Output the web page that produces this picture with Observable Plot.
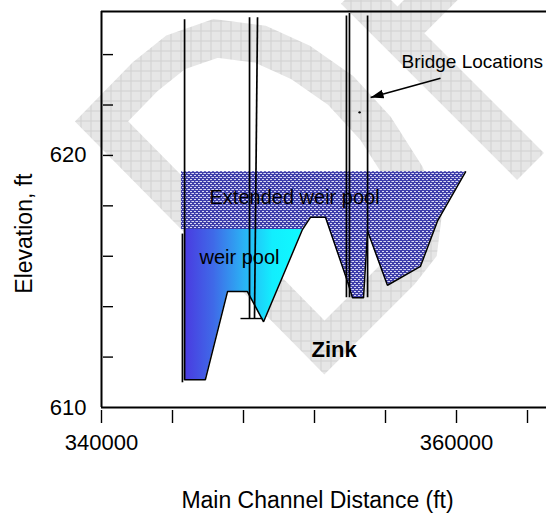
<!DOCTYPE html>
<html><head><meta charset="utf-8">
<script src="https://cdn.jsdelivr.net/npm/d3@7"></script>
<script src="https://cdn.jsdelivr.net/npm/@observablehq/plot@0.6"></script>
<style>body{margin:0;background:#fff}</style>
</head><body><div id="chart"></div>
<script>
// ---- data (main channel distance in ft, elevation in ft) ----
const stationFt  = [344680, 345850, 347100, 348220, 349130, 351320, 351780, 352620, 353860, 354140, 354760, 354990, 356110, 357970, 358930, 360510];
const groundElev = [611.1, 611.1, 614.6, 614.6, 613.4, 617.06, 617.55, 617.55, 615.0, 614.35, 614.35, 617.0, 614.85, 615.6, 617.4, 619.35];
const weirPoolElev = 617.06;
const weirPoolEnd = 351320;
const extendedPoolElev = 619.35;
const extendedPoolStart = 344510;

const bridgeX1     = [344680, 344560, 348340, 348790, 353800, 353970, 354990];
const bridgeX2     = [344680, 344560, 348340, 348620, 353800, 353970, 354990];
const bridgeTop    = [625.4, 616.9, 625.48, 625.48, 625.55, 625.65, 625.55];
const bridgeBottom = [611.1, 611.0, 613.53, 613.53, 614.37, 614.37, 614.37];
const footX = [347830, 349070];
const footY = 613.53;

const xDomain = [340000, 365070];
const yDomain = [610, 625.71];
const xTicks = [340000, 344000, 348000, 352000, 356000, 360000, 364000];
const xTickLabels = [340000, 360000];
const yTicks = [612, 614, 616, 618, 620, 622, 624];
const yTickLabels = [610, 620];

const noteText = ["Extended weir pool", "weir pool"];
const noteX = [346085, 345520];
const noteY = [618.33, 615.95];
const bridgeNote = "Bridge Locations";
const bridgeNoteX = 356900, bridgeNoteY = 623.73;
const siteName = "Zink";
const siteX = 351830, siteY = 612.30;
const arrowFrom = [359100, 623.06];
const arrowTo = [355160, 622.30];
const dotAt = [354540, 621.71];
const xTitle = "Main Channel Distance (ft)";
const xTitlePos = [352170, 606.3];
const yTitle = "Elevation, ft";
const yTitlePos = [340000, 616.9];

// watermark ("draft" stamp) paths, in chart coordinates
const wmDx = [352560, 340000, 342480, 344170, 346420, 348960, 351210, 353470, 355440, 357130, 358090, 357860, 356850, 352560, 348390];
const wmDy = [612.38, 621.35, 623.14, 624.09, 624.64, 624.41, 623.69, 622.58, 621.07, 619.21, 617.62, 616.31, 615.40, 612.38, 615.36];
const wmBx = [354250, 364170], wmBy = [626.55, 619.56];
const wmCx = [356560, 359380], wmCy = [624.76, 626.75];

// ---- derived tables ----
const profile = stationFt.map((x, i) => ({x, g: groundElev[i]}));
const weirPool = profile.filter(p => p.x <= weirPoolEnd);
const extPool = [{x: extendedPoolStart, g: weirPoolElev}, ...profile.filter(p => p.x >= weirPoolEnd)];
const bridges = bridgeX1.map((x, i) => ({x1: x, x2: bridgeX2[i], y1: bridgeTop[i], y2: bridgeBottom[i]}));
const wm = (xs, ys, id) => xs.map((x, i) => ({x, y: ys[i], id}));
const watermark = [...wm(wmDx, wmDy, "D"), ...wm(wmBx, wmBy, "B"), ...wm(wmCx, wmCy, "C")];

function solidArrow(color) {
  const m = d3.create("svg:marker")
    .attr("viewBox", "-13 -5 13 10")
    .attr("markerWidth", 13).attr("markerHeight", 10)
    .attr("markerUnits", "userSpaceOnUse")
    .attr("orient", "auto").attr("refX", 0).attr("refY", 0);
  m.append("path").attr("d", "M-13,-4.5L0,0L-13,4.5Z").attr("fill", color).attr("stroke", "none");
  return m.node();
}

const font = "'Liberation Sans', Arial, Helvetica, sans-serif";

const chart = Plot.plot({
  width: 546, height: 514,
  marginLeft: 101, marginRight: 0, marginTop: 11, marginBottom: 107,
  x: {domain: xDomain},
  y: {domain: yDomain},
  style: {fontFamily: font, fontSize: "22px", background: "white", color: "black", overflow: "visible"},
  marks: [
    Plot.line(watermark, {x: "x", y: "y", z: "id", stroke: "url(#wm)", strokeWidth: 38, strokeLinejoin: "miter", strokeLinecap: "butt", strokeMiterlimit: 4}),
    Plot.areaY(extPool, {x: "x", y1: "g", y2: () => extendedPoolElev, fill: "url(#ext)"}),
    Plot.areaY(weirPool, {x: "x", y1: "g", y2: () => weirPoolElev, fill: "url(#wg)"}),
    Plot.line(profile, {x: "x", y: "g", stroke: "black", strokeWidth: 1.5, strokeLinejoin: "miter"}),
    Plot.link(bridges, {x1: "x1", x2: "x2", y1: "y1", y2: "y2", stroke: "black", strokeWidth: 1.7}),
    Plot.link([footX], {x1: d => d[0], x2: d => d[1], y1: () => footY, y2: () => footY, stroke: "black", strokeWidth: 1.4}),
    Plot.ruleX([xDomain[0]], {stroke: "black", strokeWidth: 2}),
    Plot.ruleY([yDomain[0], yDomain[1]], {stroke: "black", strokeWidth: 2}),
    Plot.tickY(yTicks, {y: d => d, insetLeft: 2, insetRight: 433, stroke: "black", strokeWidth: 1.4}),
    Plot.tickX(xTicks, {x: d => d, insetTop: 399, insetBottom: -16, stroke: "black", strokeWidth: 1.4}),
    Plot.axisY(yTickLabels, {tickSize: 0, tickPadding: 15, fontSize: 22, label: null, tickFormat: d => String(d)}),
    Plot.axisX(xTickLabels, {tickSize: 0, tickPadding: 27, fontSize: 22, label: null, tickFormat: d => String(d)}),
    Plot.text(noteText, {x: (d, i) => noteX[i], y: (d, i) => noteY[i], text: d => d, textAnchor: "start", fontSize: 20, fill: "black"}),
    Plot.text([bridgeNote], {x: () => bridgeNoteX, y: () => bridgeNoteY, text: d => d, textAnchor: "start", fontSize: 19, fill: "black"}),
    Plot.text([siteName], {x: () => siteX, y: () => siteY, text: d => d, textAnchor: "start", fontSize: 22, fontWeight: "bold", fill: "black"}),
    Plot.link([0], {x1: () => arrowFrom[0], y1: () => arrowFrom[1], x2: () => arrowTo[0], y2: () => arrowTo[1], stroke: "black", strokeWidth: 1.6, markerEnd: solidArrow}),
    Plot.dot([dotAt], {x: d => d[0], y: d => d[1], r: 1.2, fill: "black", stroke: "none"}),
    Plot.text([yTitle], {x: () => yTitlePos[0], y: () => yTitlePos[1], text: d => d, dx: -77, rotate: -90, fontSize: 23, fill: "black"}),
    Plot.text([xTitle], {x: () => xTitlePos[0], y: () => xTitlePos[1], text: d => d, fontSize: 23, fill: "black"})
  ]
});

const defs = d3.select(chart).insert("defs", ":first-child");
const pw = defs.append("pattern").attr("id", "wm").attr("width", 10).attr("height", 10).attr("patternUnits", "userSpaceOnUse");
pw.append("rect").attr("width", 10).attr("height", 10).attr("fill", "#e6e6e6");
pw.append("path").attr("d", "M0 0.5H10M0.5 0V10").attr("stroke", "#d0d0d0").attr("stroke-width", 1).attr("fill", "none");
const pe = defs.append("pattern").attr("id", "ext").attr("width", 4).attr("height", 4).attr("patternUnits", "userSpaceOnUse");
pe.append("rect").attr("width", 4).attr("height", 4).attr("fill", "#3e3eaa");
pe.append("rect").attr("x", 0).attr("y", 1).attr("width", 2).attr("height", 1).attr("fill", "#dadaf4");
pe.append("rect").attr("x", 2).attr("y", 3).attr("width", 2).attr("height", 1).attr("fill", "#dadaf4");
pe.append("rect").attr("x", 3).attr("y", 1).attr("width", 1).attr("height", 1).attr("fill", "#9a9ad6");
const lg = defs.append("linearGradient").attr("id", "wg").attr("x1", 0).attr("x2", 1).attr("y1", 0).attr("y2", 0);
[[0, "#4a3ae0"], [0.25, "#3f6ae8"], [0.5, "#2bb0f4"], [0.75, "#12eefe"], [1, "#10faff"]]
  .forEach(([o, c]) => lg.append("stop").attr("offset", o).attr("stop-color", c));

document.getElementById("chart").appendChild(chart);
</script>
</body></html>
